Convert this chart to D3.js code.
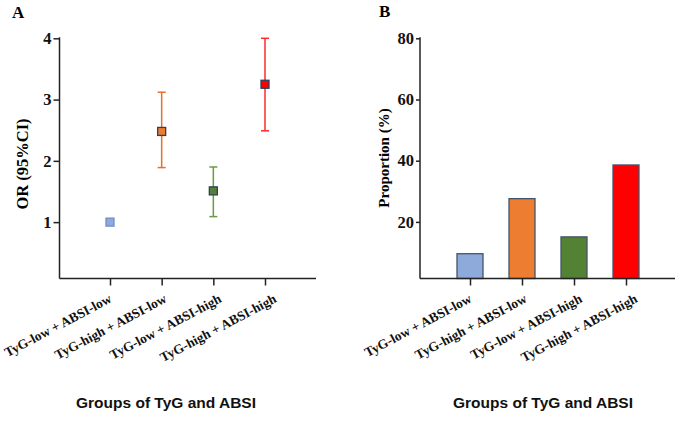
<!DOCTYPE html>
<html>
<head>
<meta charset="utf-8">
<script src="https://cdn.jsdelivr.net/npm/d3@7"></script>
<style>
  body { margin: 0; background: #fff; }
</style>
</head>
<body>
<div id="chart"></div>
<script>
const groups = ['TyG-low + ABSI-low', 'TyG-high + ABSI-low', 'TyG-low + ABSI-high', 'TyG-high + ABSI-high'];
const orValues = [1.0, 2.48, 1.51, 3.25];
const orLower = [null, 1.89, 1.09, 2.49];
const orUpper = [null, 3.12, 1.90, 4.0];
const proportions = [9.6, 27.6, 15.1, 38.6];
const orTicks = [1, 2, 3, 4];
const propTicks = [20, 40, 60, 80];
const fills = ['#8eaadb', '#ed7d31', '#548235', '#ff0000'];
const barColors = [null, '#e6702a', '#6a9a45', '#ff2a2a'];

const width = 680;
const height = 423;
const serif = '"Liberation Serif", "DejaVu Serif", serif';
const sans = '"Liberation Sans", Arial, sans-serif';

const svg = d3.select('#chart')
  .append('svg')
  .attr('width', width)
  .attr('height', height);

const plotTop = 38.3, plotBottom = 278.5;

// ---- panel A ----
const xA = d3.scalePoint().domain(groups).range([110, 265]);
const yA = d3.scaleLinear().domain([0.08, 4]).range([plotBottom, plotTop]);

svg.append('text')
  .attr('x', 12).attr('y', 17.5)
  .attr('font-family', serif).attr('font-weight', 'bold').attr('font-size', 17)
  .text('A');

svg.append('g')
  .attr('transform', 'translate(59.5,0)')
  .call(d3.axisLeft(yA).tickValues(orTicks).tickSize(6).tickPadding(2).tickFormat(d3.format('d')))
  .call(g => g.select('.domain').attr('d', `M0,${plotTop - 1}V${plotBottom}`));

svg.append('g')
  .attr('class', 'xcat')
  .attr('transform', `translate(0,${plotBottom})`)
  .call(d3.axisBottom(xA).tickSize(7).tickSizeOuter(0))
  .call(g => g.select('.domain').attr('d', 'M59.5,0H316'));

svg.append('text')
  .attr('transform', 'translate(28,164) rotate(-90)')
  .attr('text-anchor', 'middle')
  .attr('font-family', serif).attr('font-weight', 'bold').attr('font-size', 16.5)
  .text('OR (95%CI)');

const errs = svg.append('g');
groups.forEach((g, i) => {
  if (orLower[i] == null) return;
  const x = xA(g);
  const c = barColors[i];
  errs.append('line').attr('x1', x).attr('x2', x)
    .attr('y1', yA(orLower[i])).attr('y2', yA(orUpper[i]))
    .attr('stroke', c).attr('stroke-width', 1.5);
  [orLower[i], orUpper[i]].forEach(v => {
    errs.append('line').attr('x1', x - 4).attr('x2', x + 4)
      .attr('y1', yA(v)).attr('y2', yA(v))
      .attr('stroke', c).attr('stroke-width', 1.5);
  });
});

svg.append('g')
  .selectAll('rect')
  .data(groups)
  .join('rect')
    .attr('x', d => xA(d) - 4)
    .attr('y', (d, i) => yA(orValues[i]) - 4)
    .attr('width', 8)
    .attr('height', 8)
    .attr('fill', (d, i) => fills[i])
    .attr('stroke', (d, i) => i === 0 ? '#6f8fcb' : '#2f3e5c')
    .attr('stroke-width', 1.3);

// ---- panel B ----
const xB = d3.scalePoint().domain(groups).range([470, 626]);
const yB = d3.scaleLinear().domain([1.5, 80]).range([plotBottom, plotTop]);

svg.append('text')
  .attr('x', 379).attr('y', 17)
  .attr('font-family', serif).attr('font-weight', 'bold').attr('font-size', 17)
  .text('B');

svg.append('g')
  .selectAll('rect')
  .data(groups)
  .join('rect')
    .attr('x', d => xB(d) - 13)
    .attr('y', (d, i) => yB(proportions[i]))
    .attr('width', 26)
    .attr('height', (d, i) => plotBottom - yB(proportions[i]))
    .attr('fill', (d, i) => fills[i])
    .attr('stroke', '#44546a')
    .attr('stroke-width', 1.3);

svg.append('g')
  .attr('transform', 'translate(420,0)')
  .call(d3.axisLeft(yB).tickValues(propTicks).tickSize(4).tickPadding(2).tickFormat(d3.format('d')))
  .call(g => g.select('.domain').attr('d', `M0,${plotTop - 1}V${plotBottom}`));

svg.append('g')
  .attr('class', 'xcat')
  .attr('transform', `translate(0,${plotBottom})`)
  .call(d3.axisBottom(xB).tickSize(7).tickSizeOuter(0))
  .call(g => g.select('.domain').attr('d', 'M420,0H675'));

svg.append('text')
  .attr('transform', 'translate(389,158) rotate(-90)')
  .attr('text-anchor', 'middle')
  .attr('font-family', serif).attr('font-weight', 'bold').attr('font-size', 15)
  .text('Proportion (%)');

// shared axis styling
svg.selectAll('.domain, .tick line')
  .attr('stroke', '#222').attr('stroke-width', 1.5);
svg.selectAll('.tick text')
  .attr('font-family', serif).attr('font-weight', 'bold').attr('font-size', 16.5)
  .attr('fill', '#111');

// rotated category labels (they drift right a little in the original)
svg.selectAll('.xcat').each(function () {
  d3.select(this).selectAll('.tick text')
    .attr('font-size', 13.4)
    .attr('text-anchor', 'end')
    .attr('x', 0).attr('y', 0).attr('dy', 0)
    .attr('transform', (d, i) => `translate(${2 + i * 3.3},23) rotate(-28)`);
});

[166, 543].forEach(cx => {
  svg.append('text')
    .attr('x', cx).attr('y', 408)
    .attr('text-anchor', 'middle')
    .attr('font-family', sans).attr('font-weight', 'bold').attr('font-size', 15.5)
    .attr('fill', '#111')
    .text('Groups of TyG and ABSI');
});
</script>
</body>
</html>
